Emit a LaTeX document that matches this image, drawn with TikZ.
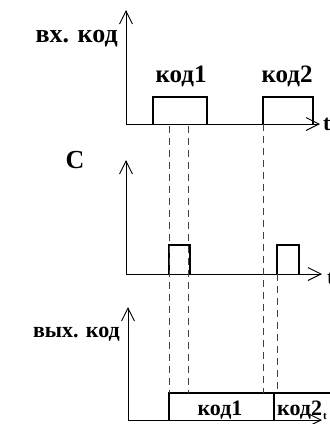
\documentclass[tikz,border=0pt]{standalone}
\usepackage{fontspec}
\setmainfont{Liberation Serif}
\usetikzlibrary{arrows.meta,positioning}
\tikzset{
  axis/.style={line width=0.9pt,
    {Straight Barb[length=13pt,width=13pt]}-{Straight Barb[length=13pt,width=13pt]}},
  pulse/.style={line width=2.8pt},
  guide/.style={dash pattern=on 7pt off 5pt, draw=black!75, line width=0.8pt},
  lbl/.style={font=\bfseries\fontsize{#1}{#1}\selectfont, inner sep=0pt},
  lbl/.default=25
}
\begin{document}
\begin{tikzpicture}[x=1pt,y=-1pt]
  \useasboundingbox (0,0) rectangle (330,424);
  % input code
  \coordinate (ya) at (126,10);
  \coordinate (xa) at (320,124);
  \draw[axis] (ya) |- (xa);
  \node[lbl=26,anchor=base east] (inlab) at (118,42) {вх. код};
  \node[lbl=22,anchor=base west] (ta) at (323,130) {t};
  \draw[pulse] (153,124) |- (207,97) -- (207,124);
  \draw[pulse] (263,124) |- (313,97) -- (313,124);
  \node[lbl,anchor=base] (k1a) at (181,82) {код1};
  \node[lbl,anchor=base] (k2a) at (287,82) {код2};
  % clock
  \coordinate (yb) at (126,160);
  \coordinate (xb) at (322,274);
  \draw[axis] (yb) |- (xb);
  \node[lbl=26,anchor=base] (clab) at (75,168) {С};
  \node[lbl=22,anchor=base west] (tb) at (327,284) {t};
  \draw[pulse] (169,274) |- (190,245) -- (190,274);
  \draw[pulse] (277,274) |- (299,245) -- (299,274);
  % output code
  \coordinate (yc) at (128,307);
  \coordinate (xc) at (322,420);
  \draw[axis] (yc) |- (xc);
  \node[lbl=22,anchor=base east] (outlab) at (120,337) {вых. код};
  \draw[pulse] (169,420) |- (330,393);
  \draw[pulse] (274,393) -- (274,420);
  \node[lbl=22,anchor=base] (k1c) at (220,415) {код1};
  \node[lbl=22,anchor=base west] (k2c) at (277,415) {код2};
  \node[lbl=11,anchor=north west] (tc) at (323,413) {t};
  % guide lines
  \coordinate (g1) at (169,126);
  \coordinate (g2) at (188,126);
  \coordinate (g3) at (263,124);
  \coordinate (g4) at (277,274);
  \coordinate (h1) at (169,393);
  \coordinate (h2) at (188,393);
  \coordinate (h3) at (263,393);
  \coordinate (h4) at (277,393);
  \draw[guide] (g1) -- (h1);
  \draw[guide] (g2) -- (h2);
  \draw[guide] (g3) -- (h3);
  \draw[guide] (g4) -- (h4);
\end{tikzpicture}
\end{document}
